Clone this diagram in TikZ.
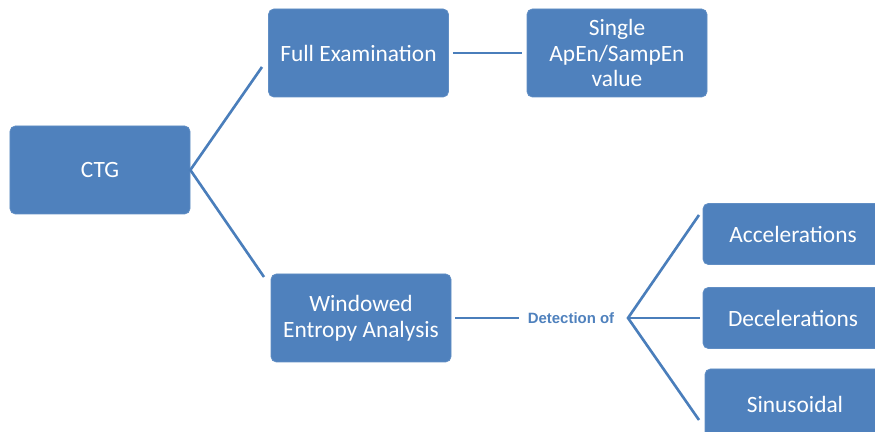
\documentclass[tikz,border=0pt]{standalone}
\usepackage{fontspec}
\setmainfont{Carlito}
\newfontfamily\labelfont{Liberation Sans}
\usepackage{tikz}
\usetikzlibrary{positioning}
\definecolor{boxblue}{HTML}{4F81BD}
\definecolor{lineblue}{HTML}{4A7EBB}
\tikzset{
  stagebox/.style={draw=boxblue!90!white, fill=boxblue, rounded corners=3pt,
    text=white, align=center, minimum width=3.6cm, minimum height=1.76cm,
    inner sep=2pt, font=\fontsize{13.3}{14.7}\selectfont},
  eventbox/.style={stagebox, minimum height=1.22cm},
  link/.style={draw=lineblue, line width=1.5pt}
}

\begin{document}
\begin{tikzpicture}

  \useasboundingbox (0,0) rectangle (17.5,8.64);
  \clip (0,0) rectangle (17.5,8.64);

  % boxes
  \node [stagebox] (ctg) at (2.0,5.24) {CTG};
  \node [stagebox] (full) at (7.17,7.58) {Full Examination};
  \node [stagebox] (single) at (12.34,7.58) {Single\\ApEn/SampEn\\value};
  \node [stagebox] (windowed) at (7.22,2.28) {Windowed\\Entropy Analysis};

  \node [eventbox] (accel) at (15.86,3.96) {Accelerations};
  \node [eventbox] (decel) at (15.86,2.28) {Decelerations};
  \node [eventbox, minimum height=1.4cm] (sinus) at (15.9,0.56) {Sinusoidal};

  \node [text=boxblue, font=\labelfont\bfseries\fontsize{8.5}{10}\selectfont,
    inner sep=2pt] (detect) at (11.42,2.28) {Detection of};

  % fork points
  \coordinate (fullend) at (5.24,7.3);
  \coordinate (winend) at (5.28,3.1);
  \coordinate (fork) at (12.56,2.28);
  \coordinate (accelend) at (13.98,4.34);
  \coordinate (decelend) at (14.0,2.28);
  \coordinate (sinusend) at (13.98,0.24);

  \draw [link] (fullend) -- (ctg.east) -- (winend);
  \draw [link, shorten <=0.08cm, shorten >=0.1cm] (full.east) -- (single.west);
  \draw [link, shorten <=0.08cm, shorten >=0.1cm] (windowed.east) -- (detect.west);

  \draw [link] (accelend) -- (fork) -- (sinusend);
  \draw [link] (fork) -- (decelend);

\end{tikzpicture}
\end{document}
